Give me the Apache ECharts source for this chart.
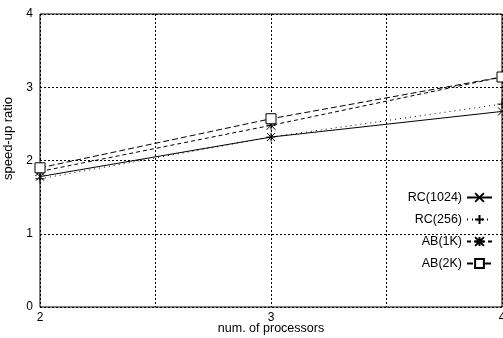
<!DOCTYPE html>
<html><head><meta charset="utf-8">
<script src="https://cdn.jsdelivr.net/npm/echarts@6/dist/echarts.min.js"></script>
<style>html,body{margin:0;padding:0;background:#fff}#c{width:503px;height:338px}</style>
</head><body><div id="c"></div>
<script>
const processors = [2, 3, 4];
const rc1024 = [1.78, 2.32, 2.67];
const rc256 = [1.75, 2.32, 2.77];
const ab1k = [1.85, 2.48, 3.14];
const ab2k = [1.90, 2.57, 3.14];
const seriesNames = ['RC(1024)', 'RC(256)', 'AB(1K)', 'AB(2K)'];
const yTicks = [0, 1, 2, 3, 4];

const X_PATH = 'path://M0,0L10,10M10,0L0,10';
const PLUS_PATH = 'path://M5,0L5,10M0,5L10,5';
const STAR_PATH = 'path://M5,0L5,10M0,5L10,5M0,0L10,10M10,0L0,10';
const SQ_PATH = 'path://M0,0L10,0L10,10L0,10Z';

function pts(vals){ return processors.map((p,i)=>[p, vals[i]]); }
const font = 'Liberation Sans, Arial, sans-serif';
const chart = echarts.init(document.getElementById('c'));
const mk = (name, vals, symbol, size, ltype, fill) => ({
  name, type:'line', data: pts(vals), symbol, symbolSize: size,
  showAllSymbol: true,
  lineStyle:{color:'#000', width:1, type: ltype},
  itemStyle:{color: fill || '#000', borderColor:'#000', borderWidth:1},
  emphasis:{disabled:true}, animation:false
});
chart.setOption({
  animation:false,
  textStyle:{fontFamily:font},
  grid:{left:40, right:1, top:14, bottom:31, outerBoundsMode:'none', containLabel:false,
    show:true, borderColor:'#000', borderWidth:1, backgroundColor:'transparent'},
  xAxis:{type:'value', min:2, max:4, interval:0.5,
    name:'num. of processors', nameLocation:'middle', nameGap:15, nameMoveOverlap:false,
    nameTextStyle:{color:'#000', fontSize:12.5, fontFamily:font},
    axisLine:{show:false}, axisTick:{show:false},
    axisLabel:{color:'#000', fontSize:12, margin:5, fontFamily:font,
      formatter:v=> processors.includes(v) ? String(v) : ''},
    splitLine:{show:true, lineStyle:{color:'#000', type:[2,2], width:1}}},
  yAxis:{type:'value', min:yTicks[0], max:yTicks[yTicks.length-1], interval:1,
    name:'speed-up ratio', nameLocation:'middle', nameGap:25, nameMoveOverlap:false,
    nameTextStyle:{color:'#000', fontSize:13, fontFamily:font, padding:[0,0,0,44]},
    axisLine:{show:false}, axisTick:{show:false},
    axisLabel:{color:'#000', fontSize:12, margin:7, fontFamily:font},
    splitLine:{show:true, lineStyle:{color:'#000', type:[2,2], width:1}}},
  legend:{orient:'vertical', right:10, top:191, padding:0, align:'right', itemWidth:25, itemHeight:11, itemGap:9,
    textStyle:{color:'#000', fontSize:12.5, fontFamily:font}, selectedMode:false,
    data: seriesNames},
  series:[
    mk(seriesNames[0], rc1024, X_PATH, 8, 'solid'),
    mk(seriesNames[1], rc256, PLUS_PATH, 9, [1,4]),
    mk(seriesNames[2], ab1k, STAR_PATH, 9, [4,3]),
    mk(seriesNames[3], ab2k, SQ_PATH, 10, [6,3], '#fff')
  ]
});
</script></body></html>
